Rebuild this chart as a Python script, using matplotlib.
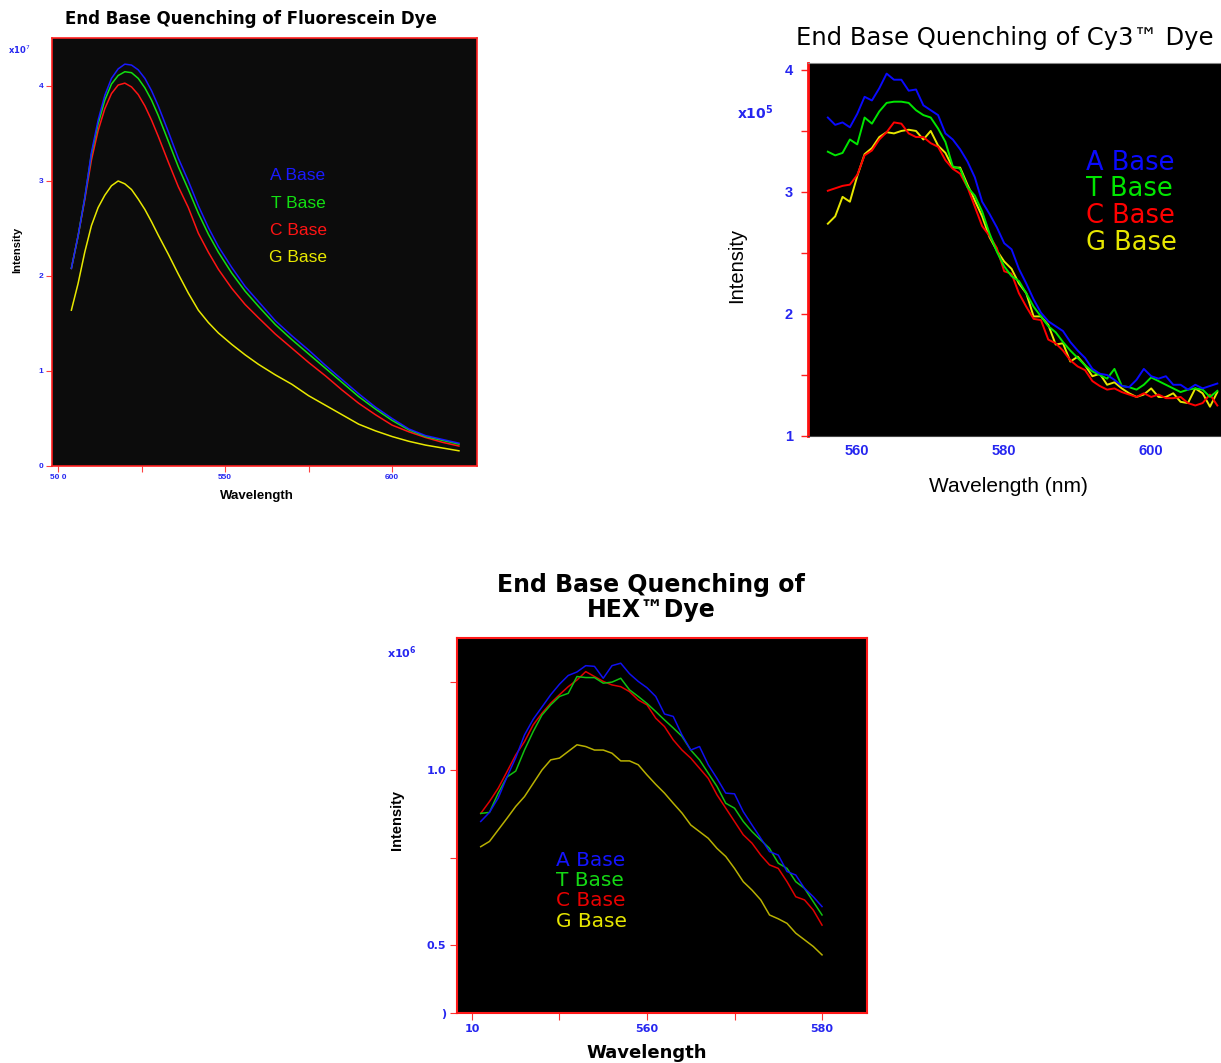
import matplotlib
matplotlib.use("Agg")
import matplotlib.pyplot as plt

# ---------------- data ----------------
BASES = ["A Base", "T Base", "C Base", "G Base"]

# Fluorescein (x1e7)
FL_WL = [504, 506, 508, 510, 512, 514, 516, 518, 520, 522, 524, 526, 528, 530, 533, 536, 539,
         542, 545, 548, 552, 556, 560, 565, 570, 575, 580, 585, 590, 595, 600, 605, 610, 615, 620]
FL_A = [2.08, 2.42, 2.82, 3.30, 3.64, 3.90, 4.08, 4.18, 4.23, 4.22, 4.17, 4.08, 3.95, 3.79, 3.52, 3.24, 3.00,
        2.74, 2.51, 2.31, 2.09, 1.89, 1.73, 1.53, 1.37, 1.22, 1.06, 0.91, 0.76, 0.62, 0.50, 0.39, 0.32, 0.28, 0.24]
FL_T = [2.08, 2.42, 2.82, 3.28, 3.60, 3.85, 4.02, 4.11, 4.15, 4.14, 4.08, 3.98, 3.85, 3.69, 3.42, 3.15, 2.91,
        2.66, 2.44, 2.25, 2.03, 1.84, 1.68, 1.49, 1.33, 1.18, 1.03, 0.88, 0.73, 0.60, 0.48, 0.38, 0.31, 0.27, 0.23]
FL_C = [2.08, 2.42, 2.80, 3.22, 3.53, 3.76, 3.92, 4.01, 4.03, 3.99, 3.91, 3.79, 3.64, 3.47, 3.20, 2.94, 2.72,
        2.45, 2.25, 2.07, 1.87, 1.70, 1.56, 1.39, 1.24, 1.09, 0.95, 0.80, 0.66, 0.54, 0.43, 0.36, 0.30, 0.25, 0.21]
FL_G = [1.64, 1.92, 2.25, 2.53, 2.72, 2.85, 2.95, 3.00, 2.97, 2.91, 2.81, 2.70, 2.57, 2.43, 2.23, 2.02, 1.82,
        1.64, 1.51, 1.40, 1.28, 1.17, 1.07, 0.96, 0.86, 0.74, 0.64, 0.54, 0.44, 0.37, 0.31, 0.26, 0.22, 0.19, 0.16]

# Cy3 (x1e5)
CY_WL = list(range(556, 610))
CY_A = [3.61, 3.55, 3.57, 3.53, 3.64, 3.78, 3.75, 3.85, 3.97, 3.92, 3.92, 3.83, 3.84, 3.71, 3.67, 3.63, 3.48,
        3.43, 3.35, 3.25, 3.12, 2.92, 2.82, 2.71, 2.58, 2.53, 2.37, 2.25, 2.12, 2.01, 1.94, 1.90, 1.86, 1.77,
        1.70, 1.64, 1.55, 1.51, 1.50, 1.46, 1.41, 1.40, 1.46, 1.55, 1.49, 1.47, 1.49, 1.42, 1.42, 1.38, 1.42,
        1.39, 1.41, 1.43]
CY_T = [3.33, 3.30, 3.32, 3.43, 3.39, 3.61, 3.56, 3.66, 3.73, 3.74, 3.74, 3.73, 3.67, 3.63, 3.61, 3.52, 3.41,
        3.21, 3.19, 3.04, 2.97, 2.84, 2.66, 2.51, 2.39, 2.31, 2.27, 2.17, 2.06, 1.98, 1.90, 1.85, 1.77, 1.70,
        1.64, 1.58, 1.53, 1.50, 1.47, 1.55, 1.41, 1.40, 1.38, 1.42, 1.48, 1.45, 1.42, 1.39, 1.36, 1.38, 1.39,
        1.38, 1.32, 1.37]
CY_C = [3.01, 3.03, 3.05, 3.06, 3.14, 3.30, 3.34, 3.43, 3.49, 3.57, 3.56, 3.48, 3.45, 3.45, 3.40, 3.37, 3.26,
        3.19, 3.15, 3.04, 2.88, 2.72, 2.64, 2.54, 2.35, 2.33, 2.17, 2.06, 1.96, 1.95, 1.79, 1.76, 1.70, 1.62,
        1.57, 1.54, 1.45, 1.41, 1.38, 1.39, 1.36, 1.34, 1.32, 1.35, 1.32, 1.34, 1.31, 1.31, 1.32, 1.27, 1.25,
        1.27, 1.34, 1.25]
CY_G = [2.74, 2.80, 2.96, 2.92, 3.13, 3.31, 3.36, 3.45, 3.49, 3.48, 3.50, 3.51, 3.50, 3.43, 3.50, 3.38, 3.32,
        3.20, 3.20, 3.06, 2.93, 2.80, 2.63, 2.52, 2.43, 2.37, 2.25, 2.17, 1.98, 1.98, 1.91, 1.75, 1.76, 1.61,
        1.65, 1.58, 1.49, 1.51, 1.42, 1.44, 1.39, 1.35, 1.32, 1.34, 1.39, 1.32, 1.32, 1.35, 1.28, 1.27, 1.39,
        1.35, 1.24, 1.36]

# HEX (x1e6)
HX_WL = list(range(541, 581))
HX_A = [0.853, 0.879, 0.920, 0.980, 1.035, 1.100, 1.145, 1.180, 1.215, 1.245, 1.270, 1.280, 1.298, 1.296,
        1.262, 1.298, 1.305, 1.275, 1.253, 1.235, 1.210, 1.160, 1.153, 1.100, 1.057, 1.067, 1.015, 0.976,
        0.934, 0.932, 0.881, 0.843, 0.805, 0.767, 0.757, 0.710, 0.700, 0.662, 0.638, 0.610]
HX_T = [0.876, 0.879, 0.934, 0.980, 0.997, 1.057, 1.110, 1.157, 1.186, 1.210, 1.219, 1.267, 1.264, 1.264,
        1.248, 1.251, 1.262, 1.229, 1.210, 1.190, 1.167, 1.143, 1.120, 1.096, 1.057, 1.029, 0.991, 0.953,
        0.905, 0.891, 0.853, 0.824, 0.800, 0.776, 0.734, 0.719, 0.681, 0.662, 0.624, 0.586]
HX_C = [0.876, 0.910, 0.948, 0.995, 1.043, 1.081, 1.129, 1.162, 1.191, 1.215, 1.238, 1.257, 1.281, 1.267,
        1.253, 1.243, 1.238, 1.224, 1.200, 1.186, 1.148, 1.124, 1.086, 1.057, 1.034, 1.005, 0.976, 0.929,
        0.891, 0.853, 0.815, 0.791, 0.757, 0.729, 0.719, 0.681, 0.638, 0.629, 0.600, 0.557]
HX_G = [0.781, 0.796, 0.829, 0.862, 0.896, 0.924, 0.962, 1.000, 1.029, 1.034, 1.053, 1.072, 1.067, 1.057,
        1.057, 1.048, 1.026, 1.026, 1.015, 0.986, 0.959, 0.934, 0.905, 0.877, 0.843, 0.824, 0.805, 0.776,
        0.753, 0.719, 0.681, 0.657, 0.629, 0.586, 0.575, 0.562, 0.534, 0.515, 0.496, 0.472]

# ---------------- figure ----------------
W, H = 1221, 1063
fig = plt.figure(figsize=(W / 100, H / 100), dpi=100)
fig.patch.set_facecolor("white")

def fx(px):
    return px / W

def fy(py):
    return 1 - py / H

TICK_BLUE = "#2626f0"
SANS = ["Liberation Sans", "DejaVu Sans"]
WIDE = ["DejaVu Sans"]

def style_ticks(ax, size, family=SANS):
    for lbl in ax.get_xticklabels() + ax.get_yticklabels():
        lbl.set_fontweight("bold")
        lbl.set_fontsize(size)
        lbl.set_family(family)
        lbl.set_color(TICK_BLUE)

# ---------- Fluorescein ----------
ax1 = fig.add_axes([fx(52), fy(466), 425 / W, 428 / H])
ax1.set_facecolor("#0c0c0c")
cols1 = ["#1a1aff", "#12e012", "#ff1414", "#e8e800"]
for ys, c in zip([FL_G, FL_C, FL_T, FL_A], cols1[::-1]):
    ax1.plot(FL_WL, ys, color=c, lw=1.1)
ax1.set_xlim(498.2, 625.4)
ax1.set_ylim(0, 4.505)
ax1.set_xticks([500, 550, 600])
ax1.set_xticklabels(["50 0", "550", "600"])
ax1.set_xticks([525, 575], minor=True)
ax1.set_yticks([0, 1, 2, 3, 4])
ax1.set_yticklabels(["0", "1", "2", "3", "4"])
ax1.tick_params(which="both", color="#ff4040", length=4, width=0.8, pad=2)
style_ticks(ax1, 6)
for s in ax1.spines.values():
    s.set_color("#ff2020")
    s.set_linewidth(1.2)
fig.text(fx(8), fy(50), r"x10$^7$", color=TICK_BLUE, fontsize=6, ha="left", va="center", weight="bold")
fig.text(fx(17), fy(250), "Intensity", rotation=90, fontsize=8, weight="bold", ha="center", va="center", family=SANS)
fig.text(fx(257), fy(496), "Wavelength", fontsize=9.5, weight="bold", ha="center", va="center", family=SANS)
fig.text(fx(251), fy(19), "End Base Quenching of Fluorescein Dye", fontsize=12, weight="bold",
         ha="center", va="center", family=WIDE)
for i, (name, c) in enumerate(zip(BASES, cols1)):
    fig.text(fx(298), fy(176 + 27.3 * i), name, color=c, fontsize=12.5, ha="center", va="center", family=SANS)

# ---------- Cy3 ----------
ax2 = fig.add_axes([fx(808), fy(436), (W - 808) / W, 373 / H])
ax2.set_facecolor("black")
cols2 = ["#0a0aff", "#00e600", "#ff0000", "#e6e600"]
for ys, c in zip([CY_G, CY_C, CY_T, CY_A], cols2[::-1]):
    ax2.plot(CY_WL, ys, color=c, lw=1.4)
ax2.set_xlim(553.3, 609.5)
ax2.set_ylim(1.0, 4.057)
ax2.set_xticks([560, 580, 600])
ax2.set_yticks([1, 2, 3, 4])
ax2.set_yticks([1.5, 2.5, 3.5], minor=True)
ax2.tick_params(axis="y", which="both", color="#ff2020", length=5, width=1, pad=6)
ax2.tick_params(axis="x", which="both", length=0, pad=6)
style_ticks(ax2, 10.5)
ax2.spines["left"].set_color("#ff1010")
ax2.spines["left"].set_linewidth(2)
ax2.spines["top"].set_color("#888888")
ax2.spines["bottom"].set_color("#444444")
ax2.spines["right"].set_visible(False)
fig.text(fx(755), fy(113), r"$\mathbf{x10^5}$", color=TICK_BLUE, fontsize=10, ha="center", va="center")
fig.text(fx(737), fy(265), "Intensity", rotation=90, fontsize=14.5, ha="center", va="center", family=SANS)
fig.text(fx(1008), fy(487), "Wavelength (nm)", fontsize=15, ha="center", va="center", family=SANS)
fig.text(fx(1005), fy(38), "End Base Quenching of Cy3\u2122 Dye", fontsize=17.5, ha="center", va="center",
         family=WIDE)
for i, (name, c) in enumerate(zip(BASES, cols2)):
    fig.text(fx(1086), fy(163 + 26.5 * i), name, color=c, fontsize=18.5, ha="left", va="center",
             family=WIDE)

# ---------- HEX ----------
ax3 = fig.add_axes([fx(457), fy(1013), 410 / W, 375 / H])
ax3.set_facecolor("black")
cols3 = ["#1010f0", "#10c010", "#e00000", "#b8b000"]
for ys, c in zip([HX_G, HX_C, HX_T, HX_A], cols3[::-1]):
    ax3.plot(HX_WL, ys, color=c, lw=1.1)
ax3.set_xlim(538.29, 585.14)
ax3.set_ylim(0.306, 1.377)
ax3.set_xticks([540, 560, 580])
ax3.set_xticklabels(["10", "560", "580"])
ax3.set_xticks([550, 570], minor=True)
ax3.set_yticks([0.306, 0.5, 1.0])
ax3.set_yticklabels([")", "0.5", "1.0"])
ax3.set_yticks([0.75, 1.25], minor=True)
ax3.tick_params(which="both", color="#ff3030", length=5, width=0.8, pad=3)
style_ticks(ax3, 8, family=WIDE)
for s in ax3.spines.values():
    s.set_color("#ff1818")
    s.set_linewidth(1.5)
fig.text(fx(402), fy(653), r"$\mathbf{x10^6}$", color=TICK_BLUE, fontsize=8, ha="center", va="center")
fig.text(fx(397), fy(820), "Intensity", rotation=90, fontsize=10.5, weight="bold", ha="center", va="center",
         family=SANS)
fig.text(fx(647), fy(1053), "Wavelength", fontsize=13, weight="bold", ha="center", va="center", family=WIDE)
fig.text(fx(651), fy(585), "End Base Quenching of", fontsize=17, weight="bold", ha="center", va="center",
         family=WIDE)
fig.text(fx(651), fy(610), "HEX\u2122Dye", fontsize=17, weight="bold", ha="center", va="center", family=WIDE)
legend3 = ["#1414ff", "#14d814", "#e80000", "#e6e600"]
for i, (name, c) in enumerate(zip(BASES, legend3)):
    fig.text(fx(556), fy(860 + 20.5 * i), name, color=c, fontsize=14.5, ha="left", va="center",
             family=WIDE)

fig.savefig("out.png", dpi=100, facecolor="white")
